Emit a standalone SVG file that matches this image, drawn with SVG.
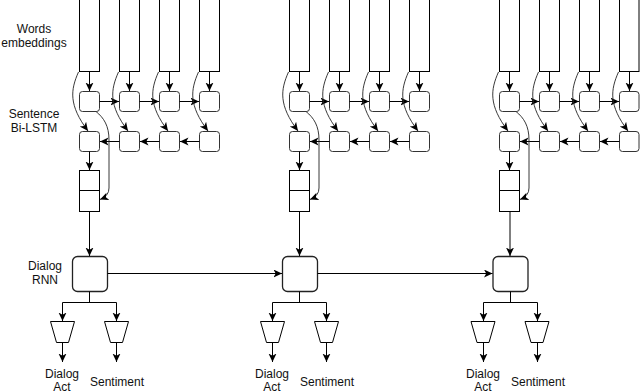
<svg xmlns="http://www.w3.org/2000/svg" width="640" height="392" viewBox="0 0 640 392">
<style>
.box{fill:#fff;stroke:#000;stroke-width:1}
.cell{fill:#fff;stroke:#333;stroke-width:1}
.rnn{fill:#fff;stroke:#222;stroke-width:1.3}
.ln{fill:none;stroke:#000;stroke-width:1}
.cv{fill:none;stroke:#222;stroke-width:0.9}
.t{font-family:"Liberation Sans",Arial,sans-serif;font-size:12px;fill:#111;text-anchor:middle}
</style>
<defs>
<marker id="ah" markerUnits="userSpaceOnUse" markerWidth="10" markerHeight="9" refX="8.5" refY="4" orient="auto">
<path d="M0,0 L8.5,4 L0,8 L2.2,4 z" fill="#000"/>
</marker>
</defs>
<rect width="640" height="392" fill="#fff"/>
<g id="labels">
<text class="t" x="34" y="33">Words</text>
<text class="t" x="34" y="47">embeddings</text>
<text class="t" x="34" y="118">Sentence</text>
<text class="t" x="34" y="132">Bi-LSTM</text>
<text class="t" x="45" y="270">Dialog</text>
<text class="t" x="45" y="284">RNN</text>
</g>

<!-- Block 1 -->
<g id="block1">
<g id="b1-emb1"><rect class="box" x="79.5" y="-5" width="20" height="76.5"/></g>
<g id="b1-emb2"><rect class="box" x="119.5" y="-5" width="20" height="76.5"/></g>
<g id="b1-emb3"><rect class="box" x="159.5" y="-5" width="20" height="76.5"/></g>
<g id="b1-emb4"><rect class="box" x="199.5" y="-5" width="20" height="76.5"/></g>
<g id="b1-f1"><rect class="cell" x="79.5" y="91.5" width="20" height="20" rx="3"/></g>
<g id="b1-f2"><rect class="cell" x="119.5" y="91.5" width="20" height="20" rx="3"/></g>
<g id="b1-f3"><rect class="cell" x="159.5" y="91.5" width="20" height="20" rx="3"/></g>
<g id="b1-f4"><rect class="cell" x="199.5" y="91.5" width="20" height="20" rx="3"/></g>
<g id="b1-b1"><rect class="cell" x="79.5" y="131.5" width="20" height="20" rx="3"/></g>
<g id="b1-b2"><rect class="cell" x="119.5" y="131.5" width="20" height="20" rx="3"/></g>
<g id="b1-b3"><rect class="cell" x="159.5" y="131.5" width="20" height="20" rx="3"/></g>
<g id="b1-b4"><rect class="cell" x="199.5" y="131.5" width="20" height="20" rx="3"/></g>
<g id="b1-concat"><rect class="box" x="79.5" y="170.5" width="20" height="41"/><line class="ln" x1="79.5" y1="190.5" x2="99.5" y2="190.5"/></g>
<g id="b1-rnn"><rect class="rnn" x="72.5" y="256.5" width="35" height="35" rx="5"/></g>
<g id="b1-act"><polygon class="box" points="50.5,321.5 74.5,321.5 68.5,342.5 56.5,342.5"/></g>
<g id="b1-sent"><polygon class="box" points="104.5,321.5 128.5,321.5 122.5,342.5 110.5,342.5"/></g>
<g id="b1-text">
<text class="t" x="62" y="377.5">Dialog</text>
<text class="t" x="62" y="390.5">Act</text>
<text class="t" x="117" y="386">Sentiment</text>
</g>
</g>

<!-- Block 2 -->
<g id="block2" transform="translate(210,0)">
<g id="b2-emb1"><rect class="box" x="79.5" y="-5" width="20" height="76.5"/></g>
<g id="b2-emb2"><rect class="box" x="119.5" y="-5" width="20" height="76.5"/></g>
<g id="b2-emb3"><rect class="box" x="159.5" y="-5" width="20" height="76.5"/></g>
<g id="b2-emb4"><rect class="box" x="199.5" y="-5" width="20" height="76.5"/></g>
<g id="b2-f1"><rect class="cell" x="79.5" y="91.5" width="20" height="20" rx="3"/></g>
<g id="b2-f2"><rect class="cell" x="119.5" y="91.5" width="20" height="20" rx="3"/></g>
<g id="b2-f3"><rect class="cell" x="159.5" y="91.5" width="20" height="20" rx="3"/></g>
<g id="b2-f4"><rect class="cell" x="199.5" y="91.5" width="20" height="20" rx="3"/></g>
<g id="b2-b1"><rect class="cell" x="79.5" y="131.5" width="20" height="20" rx="3"/></g>
<g id="b2-b2"><rect class="cell" x="119.5" y="131.5" width="20" height="20" rx="3"/></g>
<g id="b2-b3"><rect class="cell" x="159.5" y="131.5" width="20" height="20" rx="3"/></g>
<g id="b2-b4"><rect class="cell" x="199.5" y="131.5" width="20" height="20" rx="3"/></g>
<g id="b2-concat"><rect class="box" x="79.5" y="170.5" width="20" height="41"/><line class="ln" x1="79.5" y1="190.5" x2="99.5" y2="190.5"/></g>
<g id="b2-rnn"><rect class="rnn" x="72.5" y="256.5" width="35" height="35" rx="5"/></g>
<g id="b2-act"><polygon class="box" points="50.5,321.5 74.5,321.5 68.5,342.5 56.5,342.5"/></g>
<g id="b2-sent"><polygon class="box" points="104.5,321.5 128.5,321.5 122.5,342.5 110.5,342.5"/></g>
<g id="b2-text">
<text class="t" x="62" y="377.5">Dialog</text>
<text class="t" x="62" y="390.5">Act</text>
<text class="t" x="117" y="386">Sentiment</text>
</g>
</g>

<!-- Block 3 -->
<g id="block3" transform="translate(420,0)">
<g id="b3-emb1"><rect class="box" x="79.5" y="-5" width="20" height="76.5"/></g>
<g id="b3-emb2"><rect class="box" x="119.5" y="-5" width="20" height="76.5"/></g>
<g id="b3-emb3"><rect class="box" x="159.5" y="-5" width="20" height="76.5"/></g>
<g id="b3-emb4"><rect class="box" x="199.5" y="-5" width="19.5" height="76.5"/></g>
<g id="b3-f1"><rect class="cell" x="79.5" y="91.5" width="20" height="20" rx="3"/></g>
<g id="b3-f2"><rect class="cell" x="119.5" y="91.5" width="20" height="20" rx="3"/></g>
<g id="b3-f3"><rect class="cell" x="159.5" y="91.5" width="20" height="20" rx="3"/></g>
<g id="b3-f4"><rect class="cell" x="199.5" y="91.5" width="19.5" height="20" rx="3"/></g>
<g id="b3-b1"><rect class="cell" x="79.5" y="131.5" width="20" height="20" rx="3"/></g>
<g id="b3-b2"><rect class="cell" x="119.5" y="131.5" width="20" height="20" rx="3"/></g>
<g id="b3-b3"><rect class="cell" x="159.5" y="131.5" width="20" height="20" rx="3"/></g>
<g id="b3-b4"><rect class="cell" x="199.5" y="131.5" width="19.5" height="20" rx="3"/></g>
<g id="b3-concat"><rect class="box" x="79.5" y="170.5" width="20" height="41"/><line class="ln" x1="79.5" y1="190.5" x2="99.5" y2="190.5"/></g>
<g id="b3-rnn"><rect class="rnn" x="73" y="256.5" width="35" height="35" rx="5"/></g>
<g id="b3-act"><polygon class="box" points="51,321.5 75,321.5 69,342.5 57,342.5"/></g>
<g id="b3-sent"><polygon class="box" points="105,321.5 129,321.5 123,342.5 111,342.5"/></g>
<g id="b3-text">
<text class="t" x="63" y="377.5">Dialog</text>
<text class="t" x="63" y="390.5">Act</text>
<text class="t" x="118" y="386">Sentiment</text>
</g>
</g>

<!-- Connectors -->
<g id="connectors">
<g id="conn-block1">
<line class="ln" x1="89.5" y1="71.5" x2="89.5" y2="91" marker-end="url(#ah)"/>
<line class="ln" x1="129.5" y1="71.5" x2="129.5" y2="91" marker-end="url(#ah)"/>
<line class="ln" x1="169.5" y1="71.5" x2="169.5" y2="91" marker-end="url(#ah)"/>
<line class="ln" x1="209.5" y1="71.5" x2="209.5" y2="91" marker-end="url(#ah)"/>
<line class="ln" x1="99.5" y1="101.5" x2="119" y2="101.5" marker-end="url(#ah)"/>
<line class="ln" x1="139.5" y1="101.5" x2="159" y2="101.5" marker-end="url(#ah)"/>
<line class="ln" x1="179.5" y1="101.5" x2="199" y2="101.5" marker-end="url(#ah)"/>
<line class="ln" x1="199.5" y1="141.5" x2="180" y2="141.5" marker-end="url(#ah)"/>
<line class="ln" x1="159.5" y1="141.5" x2="140" y2="141.5" marker-end="url(#ah)"/>
<line class="ln" x1="119.5" y1="141.5" x2="100" y2="141.5" marker-end="url(#ah)"/>
<path class="cv" d="M78.5,72 C70.5,90 68.5,105 88,131" marker-end="url(#ah)"/>
<path class="cv" d="M118.5,72 C110.5,90 108.5,105 128,131" marker-end="url(#ah)"/>
<path class="cv" d="M158.5,72 C150.5,90 148.5,105 168,131" marker-end="url(#ah)"/>
<path class="cv" d="M198.5,72 C190.5,90 188.5,105 208,131" marker-end="url(#ah)"/>
<line class="ln" x1="89.5" y1="151.5" x2="89.5" y2="170" marker-end="url(#ah)"/>
<path class="cv" d="M96,111.5 C104,118 109,126 109,140 L109,188 Q109,196 100,199.5" marker-end="url(#ah)"/>
<line class="ln" x1="89.5" y1="211.5" x2="89.5" y2="256" marker-end="url(#ah)"/>
<path class="ln" d="M89.5,291.5 V302.5 M62.5,321 V302.5 H116.5 V321"/>
<line class="ln" x1="62.5" y1="315" x2="62.5" y2="321" marker-end="url(#ah)"/>
<line class="ln" x1="116.5" y1="315" x2="116.5" y2="321" marker-end="url(#ah)"/>
<line class="ln" x1="62.5" y1="342.5" x2="62.5" y2="362" marker-end="url(#ah)"/>
<line class="ln" x1="116.5" y1="342.5" x2="116.5" y2="362" marker-end="url(#ah)"/>
</g>
<g id="conn-block2" transform="translate(210,0)">
<line class="ln" x1="89.5" y1="71.5" x2="89.5" y2="91" marker-end="url(#ah)"/>
<line class="ln" x1="129.5" y1="71.5" x2="129.5" y2="91" marker-end="url(#ah)"/>
<line class="ln" x1="169.5" y1="71.5" x2="169.5" y2="91" marker-end="url(#ah)"/>
<line class="ln" x1="209.5" y1="71.5" x2="209.5" y2="91" marker-end="url(#ah)"/>
<line class="ln" x1="99.5" y1="101.5" x2="119" y2="101.5" marker-end="url(#ah)"/>
<line class="ln" x1="139.5" y1="101.5" x2="159" y2="101.5" marker-end="url(#ah)"/>
<line class="ln" x1="179.5" y1="101.5" x2="199" y2="101.5" marker-end="url(#ah)"/>
<line class="ln" x1="199.5" y1="141.5" x2="180" y2="141.5" marker-end="url(#ah)"/>
<line class="ln" x1="159.5" y1="141.5" x2="140" y2="141.5" marker-end="url(#ah)"/>
<line class="ln" x1="119.5" y1="141.5" x2="100" y2="141.5" marker-end="url(#ah)"/>
<path class="cv" d="M78.5,72 C70.5,90 68.5,105 88,131" marker-end="url(#ah)"/>
<path class="cv" d="M118.5,72 C110.5,90 108.5,105 128,131" marker-end="url(#ah)"/>
<path class="cv" d="M158.5,72 C150.5,90 148.5,105 168,131" marker-end="url(#ah)"/>
<path class="cv" d="M198.5,72 C190.5,90 188.5,105 208,131" marker-end="url(#ah)"/>
<line class="ln" x1="89.5" y1="151.5" x2="89.5" y2="170" marker-end="url(#ah)"/>
<path class="cv" d="M96,111.5 C104,118 109,126 109,140 L109,188 Q109,196 100,199.5" marker-end="url(#ah)"/>
<line class="ln" x1="89.5" y1="211.5" x2="89.5" y2="256" marker-end="url(#ah)"/>
<path class="ln" d="M89.5,291.5 V302.5 M62.5,321 V302.5 H116.5 V321"/>
<line class="ln" x1="62.5" y1="315" x2="62.5" y2="321" marker-end="url(#ah)"/>
<line class="ln" x1="116.5" y1="315" x2="116.5" y2="321" marker-end="url(#ah)"/>
<line class="ln" x1="62.5" y1="342.5" x2="62.5" y2="362" marker-end="url(#ah)"/>
<line class="ln" x1="116.5" y1="342.5" x2="116.5" y2="362" marker-end="url(#ah)"/>
</g>
<g id="conn-block3" transform="translate(420,0)">
<line class="ln" x1="89.5" y1="71.5" x2="89.5" y2="91" marker-end="url(#ah)"/>
<line class="ln" x1="129.5" y1="71.5" x2="129.5" y2="91" marker-end="url(#ah)"/>
<line class="ln" x1="169.5" y1="71.5" x2="169.5" y2="91" marker-end="url(#ah)"/>
<line class="ln" x1="209.5" y1="71.5" x2="209.5" y2="91" marker-end="url(#ah)"/>
<line class="ln" x1="99.5" y1="101.5" x2="119" y2="101.5" marker-end="url(#ah)"/>
<line class="ln" x1="139.5" y1="101.5" x2="159" y2="101.5" marker-end="url(#ah)"/>
<line class="ln" x1="179.5" y1="101.5" x2="199" y2="101.5" marker-end="url(#ah)"/>
<line class="ln" x1="199.5" y1="141.5" x2="180" y2="141.5" marker-end="url(#ah)"/>
<line class="ln" x1="159.5" y1="141.5" x2="140" y2="141.5" marker-end="url(#ah)"/>
<line class="ln" x1="119.5" y1="141.5" x2="100" y2="141.5" marker-end="url(#ah)"/>
<path class="cv" d="M78.5,72 C70.5,90 68.5,105 88,131" marker-end="url(#ah)"/>
<path class="cv" d="M118.5,72 C110.5,90 108.5,105 128,131" marker-end="url(#ah)"/>
<path class="cv" d="M158.5,72 C150.5,90 148.5,105 168,131" marker-end="url(#ah)"/>
<path class="cv" d="M198.5,72 C190.5,90 188.5,105 208,131" marker-end="url(#ah)"/>
<line class="ln" x1="89.5" y1="151.5" x2="89.5" y2="170" marker-end="url(#ah)"/>
<path class="cv" d="M96,111.5 C104,118 109,126 109,140 L109,188 Q109,196 100,199.5" marker-end="url(#ah)"/>
<line class="ln" x1="90" y1="211.5" x2="90" y2="256" marker-end="url(#ah)"/>
<path class="ln" d="M90.5,291.5 V302.5 M63.5,321 V302.5 H117.5 V321"/>
<line class="ln" x1="63.5" y1="315" x2="63.5" y2="321" marker-end="url(#ah)"/>
<line class="ln" x1="117.5" y1="315" x2="117.5" y2="321" marker-end="url(#ah)"/>
<line class="ln" x1="63.5" y1="342.5" x2="63.5" y2="362" marker-end="url(#ah)"/>
<line class="ln" x1="117.5" y1="342.5" x2="117.5" y2="362" marker-end="url(#ah)"/>
</g>
<line class="ln" x1="107.5" y1="273.5" x2="282" y2="273.5" stroke="#444" marker-end="url(#ah)"/>
<line class="ln" x1="317.5" y1="273.5" x2="492.5" y2="273.5" stroke="#444" marker-end="url(#ah)"/>
</g>
</svg>
